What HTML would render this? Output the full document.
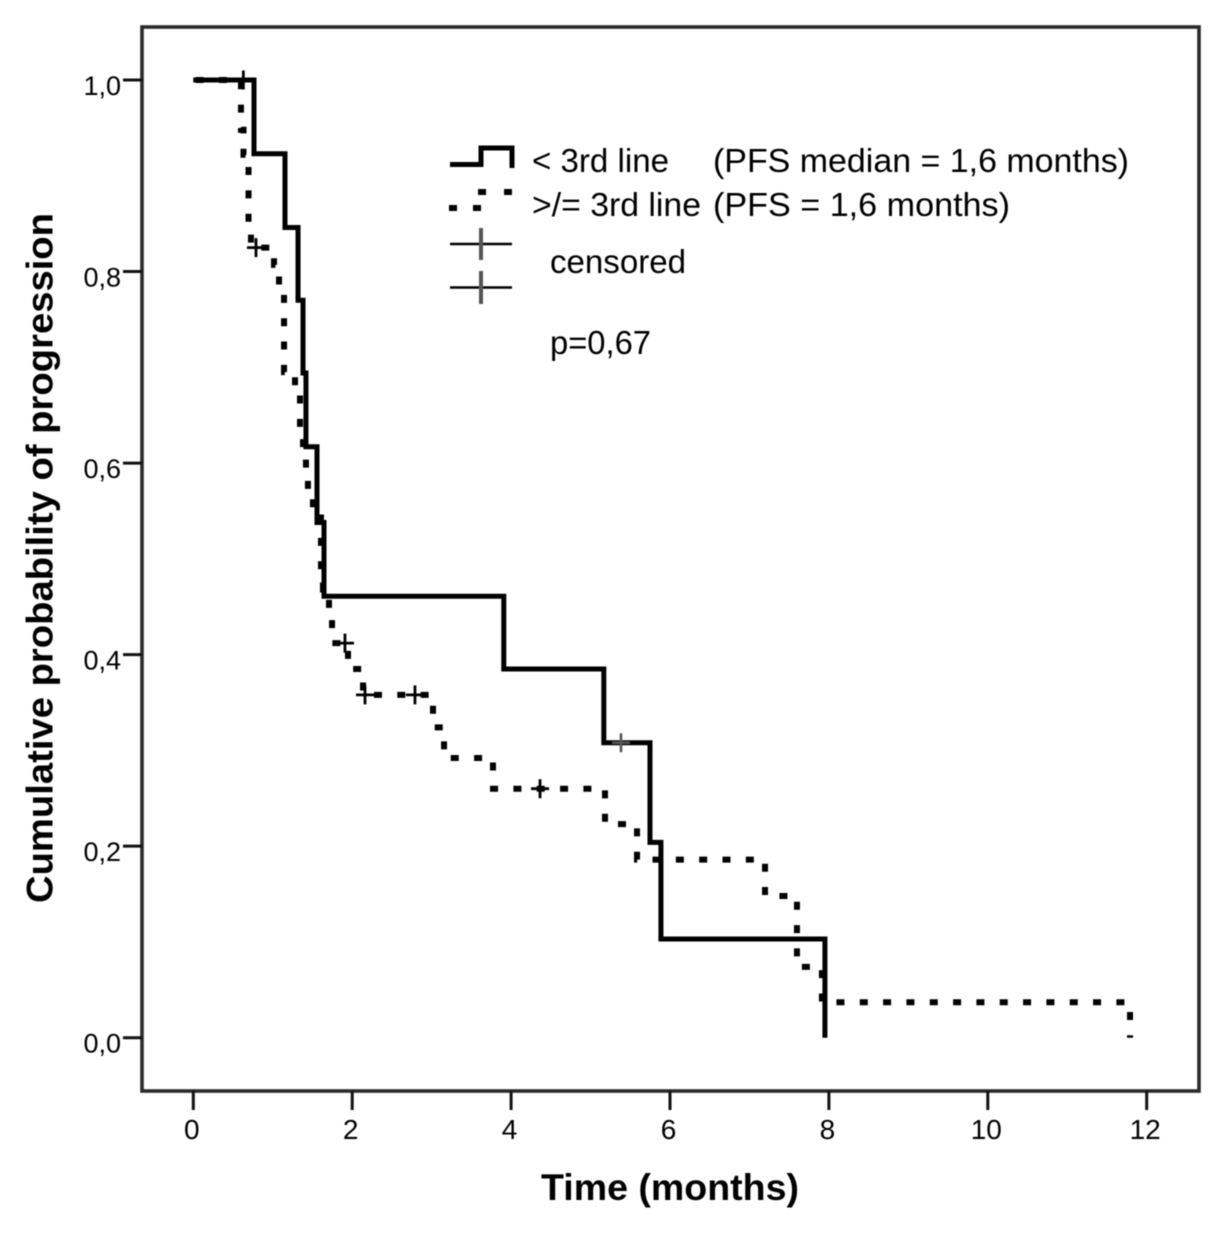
<!DOCTYPE html>
<html lang="en">
<head>
<meta charset="utf-8">
<title>Cumulative probability of progression</title>
<style>
html,body{margin:0;padding:0;background:#fff;}
body{width:1228px;height:1233px;overflow:hidden;}
svg{display:block;filter:blur(0.55px);font-family:"Liberation Sans",Arial,sans-serif;fill:#000;}
</style>
</head>
<body>
<svg id="chart" xmlns="http://www.w3.org/2000/svg" width="1228" height="1233" viewBox="0 0 1228 1233">
  <rect x="0" y="0" width="1228" height="1233" fill="#fff"/>
  <rect x="142" y="27" width="1057" height="1064" fill="none" stroke="#2a2a2a" stroke-width="3.6"/>
  <g id="x-ticks"></g>
  <g id="y-ticks"></g>
  <g id="series"></g>
  <g>
    <path d="M450 164.5H481V148H512V168" fill="none" stroke="#000" stroke-width="5"/>
    <path d="M449 208h8M473 208h8M478 192h8M504 192h8" fill="none" stroke="#000" stroke-width="6"/>
    <path d="M450 244H512" stroke="#000" stroke-width="2.4"/>
    <path d="M481 228V260" stroke="#555" stroke-width="4"/>
    <path d="M450 287.5H512" stroke="#000" stroke-width="2.4"/>
    <path d="M481 271V304" stroke="#555" stroke-width="4"/>
    <text x="532" y="172" font-size="33" textLength="137" lengthAdjust="spacingAndGlyphs">&lt; 3rd line</text>
    <text x="713" y="172" font-size="33" textLength="416" lengthAdjust="spacingAndGlyphs">(PFS median = 1,6 months)</text>
    <text x="532" y="216" font-size="33" textLength="169" lengthAdjust="spacingAndGlyphs">&gt;/= 3rd line</text>
    <text x="713" y="216" font-size="33" textLength="297" lengthAdjust="spacingAndGlyphs">(PFS = 1,6 months)</text>
    <text x="550" y="273" font-size="33" textLength="136" lengthAdjust="spacingAndGlyphs">censored</text>
    <text x="550" y="354" font-size="33" textLength="101" lengthAdjust="spacingAndGlyphs">p=0,67</text>
  </g>
  <text x="541" y="1200" font-size="37" font-weight="bold" textLength="258" lengthAdjust="spacingAndGlyphs">Time (months)</text>
  <text transform="translate(52.5 903) rotate(-90)" x="0" y="0" font-size="37" font-weight="bold" textLength="690" lengthAdjust="spacingAndGlyphs">Cumulative probability of progression</text>
</svg>
<script>
// Chart data
const xTickValues = [0, 2, 4, 6, 8, 10, 12];
const xTickLabels = ["0", "2", "4", "6", "8", "10", "12"];
const yTickValues = [0, 0.2, 0.4, 0.6, 0.8, 1.0];
const yTickLabels = ["0,0", "0,2", "0,4", "0,6", "0,8", "1,0"];

// < 3rd line: event times (months) and survival after each event
const solidTimes = [0.764, 1.154, 1.318, 1.381, 1.418, 1.557, 1.645, 3.908, 5.167, 5.748, 5.886, 7.950];
const solidValues = [0.923, 0.846, 0.770, 0.694, 0.617, 0.538, 0.461, 0.385, 0.308, 0.204, 0.103, 0];
const solidCensoredTimes = [5.383];
const solidCensoredValues = [0.308];

// >/= 3rd line: event times (months) and survival after each event
const dottedTimes = [0.600, 0.632, 0.695, 0.726, 1.016, 1.079, 1.142, 1.280, 1.343, 1.381, 1.418, 1.443, 1.506, 1.607, 1.632, 1.708, 1.746, 1.947, 2.136, 3.017, 3.156, 3.772, 5.182, 5.585, 7.196, 7.598, 7.912, 11.790];
const dottedValues = [0.948, 0.922, 0.849, 0.825, 0.807, 0.786, 0.695, 0.676, 0.629, 0.614, 0.588, 0.572, 0.551, 0.486, 0.468, 0.447, 0.412, 0.385, 0.358, 0.324, 0.292, 0.260, 0.223, 0.186, 0.148, 0.074, 0.037, 0];
const dottedCensoredTimes = [0.63, 0.789, 1.909, 2.161, 2.790, 4.364];
const dottedCensoredValues = [1.0, 0.825, 0.412, 0.358, 0.358, 0.260];

const SVG_NS = "http://www.w3.org/2000/svg";
function xScale(t) { return 193.3 + t * 79.45; }
function yScale(s) { return 1037.7 - s * 957.7; }

function stepPath(times, values) {
  let d = "M" + xScale(0) + " " + yScale(1);
  for (let i = 0; i < times.length; i++) {
    d += "H" + xScale(times[i]).toFixed(2) + "V" + yScale(values[i]).toFixed(2);
  }
  return d;
}

const xGroup = document.getElementById("x-ticks");
xTickValues.forEach(function (v, i) {
  const tick = document.createElementNS(SVG_NS, "line");
  
  
  tick.setAttribute("x1", xScale(v));
  tick.setAttribute("x2", xScale(v));
  tick.setAttribute("y1", 1091);
  tick.setAttribute("y2", 1110);
  tick.setAttribute("stroke", "#111");
  tick.setAttribute("stroke-width", 3);
  xGroup.appendChild(tick);
  const label = document.createElementNS(SVG_NS, "text");
  
  
  label.setAttribute("x", xScale(v) - 1.5);
  label.setAttribute("y", 1139);
  label.setAttribute("font-size", 28);
  label.setAttribute("text-anchor", "middle");
  label.textContent = xTickLabels[i];
  xGroup.appendChild(label);
});

const yGroup = document.getElementById("y-ticks");
yTickValues.forEach(function (v, i) {
  const tick = document.createElementNS(SVG_NS, "line");
  
  
  tick.setAttribute("x1", 123);
  tick.setAttribute("x2", 142);
  tick.setAttribute("y1", yScale(v));
  tick.setAttribute("y2", yScale(v));
  tick.setAttribute("stroke", "#111");
  tick.setAttribute("stroke-width", 3);
  yGroup.appendChild(tick);
  const label = document.createElementNS(SVG_NS, "text");
  
  
  label.setAttribute("x", 121);
  label.setAttribute("y", yScale(v) + 15);
  label.setAttribute("font-size", 27);
  label.setAttribute("text-anchor", "end");
  label.textContent = yTickLabels[i];
  yGroup.appendChild(label);
});

const seriesGroup = document.getElementById("series");

const dottedLine = document.createElementNS(SVG_NS, "path");


dottedLine.setAttribute("d", stepPath(dottedTimes, dottedValues));
dottedLine.setAttribute("fill", "none");
dottedLine.setAttribute("stroke", "#000");
dottedLine.setAttribute("stroke-width", 6);
dottedLine.setAttribute("stroke-dasharray", "8 15.33");
dottedLine.setAttribute("stroke-dashoffset", "-2.3");
seriesGroup.appendChild(dottedLine);

const solidLine = document.createElementNS(SVG_NS, "path");


solidLine.setAttribute("d", stepPath(solidTimes, solidValues));
solidLine.setAttribute("fill", "none");
solidLine.setAttribute("stroke", "#000");
solidLine.setAttribute("stroke-width", 5);
seriesGroup.appendChild(solidLine);

function drawCensored(times, values, colour, width) {
  times.forEach(function (t, i) {
    const cx = xScale(t);
    const cy = yScale(values[i]);
    const mark = document.createElementNS(SVG_NS, "path");
    
    
    mark.setAttribute("d", "M" + (cx - 9) + " " + cy + "H" + (cx + 9) + "M" + cx + " " + (cy - 9.5) + "V" + (cy + 9.5));
    mark.setAttribute("fill", "none");
    mark.setAttribute("stroke", colour);
    mark.setAttribute("stroke-width", width);
    seriesGroup.appendChild(mark);
  });
}
drawCensored(dottedCensoredTimes, dottedCensoredValues, "#000", 2.8);
drawCensored(solidCensoredTimes, solidCensoredValues, "#555", 2.6);
</script>
</body>
</html>
